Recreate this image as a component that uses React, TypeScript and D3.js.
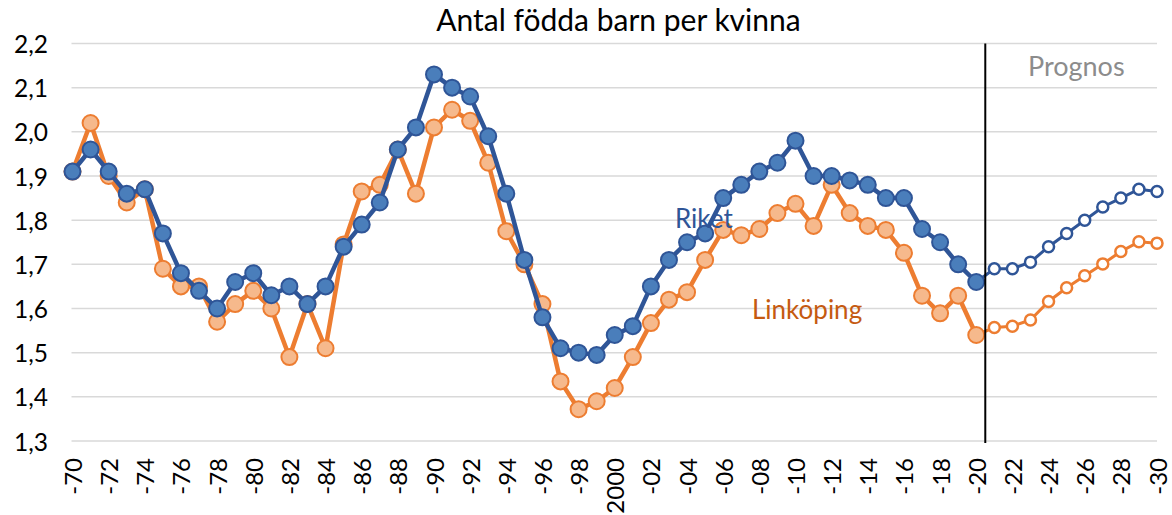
import React from "react";
import * as d3 from "d3";

const histYears: number[] = d3.range(1970, 2021);
const progYears: number[] = d3.range(2020, 2031);

const riketHist: number[] = [
  1.91, 1.96, 1.91, 1.86, 1.87, 1.77, 1.68, 1.64, 1.6, 1.66,
  1.68, 1.63, 1.65, 1.61, 1.65, 1.74, 1.79, 1.84, 1.96, 2.01,
  2.13, 2.1, 2.08, 1.99, 1.86, 1.71, 1.58, 1.51, 1.5, 1.495,
  1.54, 1.56, 1.65, 1.71, 1.75, 1.77, 1.85, 1.88, 1.91, 1.93,
  1.98, 1.9, 1.9, 1.89, 1.88, 1.85, 1.85, 1.78, 1.75, 1.7, 1.66,
];
const riketProg: number[] = [1.66, 1.69, 1.69, 1.705, 1.74, 1.77, 1.8, 1.83, 1.85, 1.87, 1.865];

const linkHist: number[] = [
  1.91, 2.02, 1.9, 1.84, 1.87, 1.69, 1.65, 1.65, 1.57, 1.61,
  1.64, 1.6, 1.49, 1.61, 1.51, 1.745, 1.865, 1.88, 1.96, 1.86,
  2.01, 2.05, 2.025, 1.93, 1.775, 1.70, 1.61, 1.435, 1.372, 1.39,
  1.42, 1.49, 1.567, 1.62, 1.637, 1.71, 1.778, 1.766, 1.78, 1.816,
  1.837, 1.787, 1.88, 1.816, 1.787, 1.778, 1.726, 1.629, 1.589, 1.629, 1.54,
];
const linkProg: number[] = [1.54, 1.557, 1.56, 1.574, 1.616, 1.647, 1.674, 1.701, 1.729, 1.751, 1.748];

const yTicks: number[] = [1.3, 1.4, 1.5, 1.6, 1.7, 1.8, 1.9, 2.0, 2.1, 2.2];
const xTickYears: number[] = d3.range(1970, 2031, 2);

const title = "Antal födda barn per kvinna";
const FONT = "Lato, 'Open Sans', sans-serif";

const W = 1172;
const H = 515;

export default function App() {
  const x = d3.scaleLinear().domain([1970, 2030]).range([72.5, 1157]);
  const y = d3.scaleLinear().domain([1.3, 2.2]).range([441, 43.5]);

  const line = d3
    .line<[number, number]>()
    .x((d) => x(d[0]))
    .y((d) => y(d[1]));

  const zip = (ys: number[], vs: number[]) => ys.map((yr, i) => [yr, vs[i]] as [number, number]);

  const rH = zip(histYears, riketHist);
  const rP = zip(progYears, riketProg);
  const lH = zip(histYears, linkHist);
  const lP = zip(progYears, linkProg);

  const fmt = (v: number) => v.toFixed(1).replace(".", ",");
  const yrLabel = (yr: number) => (yr === 2000 ? "2000" : "-" + String(yr % 100).padStart(2, "0"));

  const blueLine = "#2F5597";
  const blueFill = "#4A7EBB";
  const orangeLine = "#ED7D31";
  const orangeFill = "#F6B98C";

  const splitX = (x(2020) + x(2021)) / 2;

  return (
    <div style={{ position: "absolute", left: 0, top: 0 }}>
      <svg width={W} height={H} style={{ display: "block", background: "#fff" }}>
        {yTicks.map((t) => (
          <line key={t} x1={x(1970) - 1} x2={x(2030)} y1={y(t)} y2={y(t)} stroke="#D9D9D9" strokeWidth={1.5} />
        ))}
        {yTicks.map((t) => (
          <text
            key={"yl" + t}
            x={48}
            y={y(t)}
            textAnchor="end"
            dominantBaseline="central"
            fontFamily={FONT}
            fontSize={24.5}
            fill="#000"
          >
            {fmt(t)}
          </text>
        ))}
        {xTickYears.map((yr) => (
          <text
            key={"xl" + yr}
            transform={`translate(${x(yr)},458) rotate(-90)`}
            textAnchor="end"
            dominantBaseline="central"
            fontFamily={FONT}
            fontSize={24}
            fill="#000"
          >
            {yrLabel(yr)}
          </text>
        ))}
        <text x={618.5} y={31} textAnchor="middle" fontFamily={FONT} fontSize={30} fill="#000">
          {title}
        </text>

        <path d={line(lP) || ""} fill="none" stroke={orangeLine} strokeWidth={3} />
        <path d={line(lH) || ""} fill="none" stroke={orangeLine} strokeWidth={4.5} strokeLinejoin="round" />
        {lH.map((d) => (
          <circle key={"lh" + d[0]} cx={x(d[0])} cy={y(d[1])} r={8} fill={orangeFill} stroke={orangeLine} strokeWidth={2} />
        ))}
        {lP.slice(1).map((d) => (
          <circle key={"lp" + d[0]} cx={x(d[0])} cy={y(d[1])} r={5.5} fill="#fff" stroke={orangeLine} strokeWidth={2.5} />
        ))}

        <path d={line(rP) || ""} fill="none" stroke={blueLine} strokeWidth={3} />
        <path d={line(rH) || ""} fill="none" stroke={blueLine} strokeWidth={4.5} strokeLinejoin="round" />
        {rH.map((d) => (
          <circle key={"rh" + d[0]} cx={x(d[0])} cy={y(d[1])} r={8} fill={blueFill} stroke={blueLine} strokeWidth={2} />
        ))}
        {rP.slice(1).map((d) => (
          <circle key={"rp" + d[0]} cx={x(d[0])} cy={y(d[1])} r={5.5} fill="#fff" stroke={blueLine} strokeWidth={2.5} />
        ))}

        <line x1={splitX} x2={splitX} y1={y(2.2)} y2={y(1.3) + 2} stroke="#000" strokeWidth={2} />

        <text x={675} y={228} fontFamily={FONT} fontSize={26} fill="#2F5597">
          Riket
        </text>
        <text x={752} y={319} fontFamily={FONT} fontSize={26} fill="#C55A11">
          Linköping
        </text>
        <text x={1028} y={76} fontFamily={FONT} fontSize={27} fill="#8C8C8C">
          Prognos
        </text>
      </svg>
    </div>
  );
}
